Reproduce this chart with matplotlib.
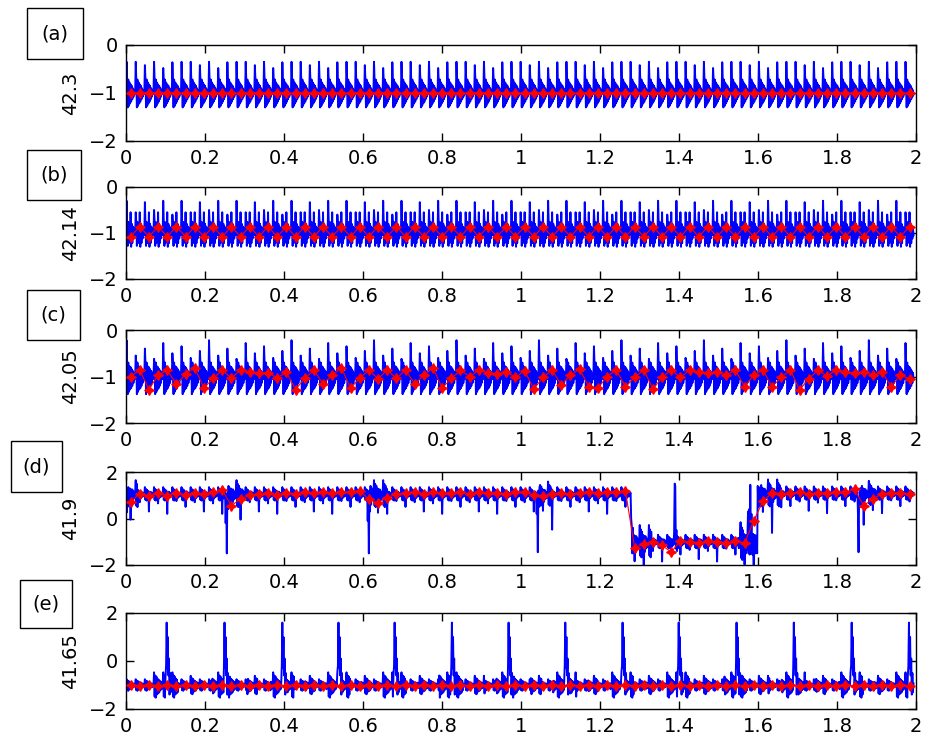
import numpy as np
import matplotlib
matplotlib.use("Agg")
from matplotlib import pyplot as plt
from matplotlib.patches import Rectangle

# ---------------- values ----------------
panel_tags = ['(a)', '(b)', '(c)', '(d)', '(e)']
panel_ylabels = ['42.3', '42.14', '42.05', '41.9', '41.65']
x_ticks = [0, 0.2, 0.4, 0.6, 0.8, 1.0, 1.2, 1.4, 1.6, 1.8, 2.0]
x_ticklabels = ['0', '0.2', '0.4', '0.6', '0.8', '1', '1.2', '1.4', '1.6', '1.8', '2']
y_ticks_abc = [-2, -1, 0]
y_ticks_de = [-2, 0, 2]

period = 0.0232          # spacing of the spikes / red markers (s)
n_cycles = 86
n_sub = 16               # samples of the blue trace per cycle

# one cycle of the blue trace (absolute values), panels a-c
cycle_a = [-1.0, -0.35, -0.74, -1.30, -0.72, -1.27, -0.78, -1.22,
           -0.82, -1.18, -0.85, -1.13, -0.90, -1.08, -0.94, -1.03]
cycle_b = [-1.0, -0.30, -0.78, -1.28, -0.76, -1.22, -0.84, -1.16,
           -0.55, -1.30, -0.80, -1.22, -0.86, -1.12, -0.90, -1.05]
cycle_c = [-1.0, -0.25, -0.72, -1.38, -0.70, -1.33, -0.78, -1.28,
           -0.80, -1.25, -0.84, -1.20, -0.88, -1.14, -0.92, -1.06]
spike_a = [-0.35, -0.35, -0.42, -0.35, -0.48, -0.36]
spike_b = [-0.30, -0.55, -0.33, -0.50, -0.30, -0.60]
spike_c = [-0.22, -0.55, -0.40, -0.62, -0.28, -0.50, -0.35, -0.60, -0.45]

# panels d, e: deviation around the running level
cycle_d = [0.0, 0.30, -0.25, 0.22, -0.28, 0.18, -0.20, 0.12,
           -0.55, 0.10, -0.18, 0.10, -0.12, 0.06, -0.10, 0.02]
dip_d = [-0.55, -0.35, -0.75, -0.40, -0.85, -0.30]
cycle_e = [0.0, 0.24, -0.22, 0.18, -0.24, 0.16, -0.18, 0.12,
           -0.16, 0.10, -0.14, 0.08, -0.10, 0.06, -0.08, 0.03]

# panel d: level segments (start, end, level)
d_segments = [(0.0, 1.277, 1.05), (1.277, 1.600, -1.0), (1.600, 2.02, 1.08)]
# panel d: single events (time, shape of trace from that time on)
d_events = [
    (0.000, [0.9, 0.25, 1.3, 0.5, 1.35, 0.7]),
    (0.253, [-0.2, 0.9, -1.5, 1.1, 0.4, 1.4, 0.6, 1.3]),
    (0.612, [-0.1, 0.8, -1.5, 1.2, 0.3, 1.4, 0.6, 1.3]),
    (1.040, [0.2, 0.9, -1.45, 1.2, 0.5, 1.35]),
    (1.277, [1.1, 0.0, -0.3, -1.5, -0.4, -1.4]),
    (1.387, [-0.6, 1.5, 1.4, -1.3, -0.5, -1.4]),
    (1.574, [0.3, -1.5, 0.4, -1.55, 1.45, -1.4, 0.2, -1.5]),
    (1.598, [-1.5, 1.4, 0.5, 1.35, 0.6, 1.3]),
    (1.853, [0.2, -1.45, 0.9, 0.6, 1.3, 0.5, 1.25]),
]
# panel d: windows with larger ringing (start, end, gain)
d_bursts = [(0.0, 0.03, 2.0), (0.255, 0.30, 2.0), (0.614, 0.66, 2.0),
            (1.042, 1.08, 1.8), (1.28, 1.33, 2.4), (1.55, 1.60, 2.8),
            (1.60, 1.66, 2.0), (1.855, 1.90, 1.8)]

# panel e: large spikes
e_spike_times = [0.101, 0.248, 0.395, 0.537, 0.679, 0.823, 0.967,
                 1.111, 1.256, 1.398, 1.544, 1.689, 1.835, 1.980]
e_spike_shape = [-0.2, 1.6, -0.3, 1.0, -0.6, 0.1, -1.4, -0.5, -1.3]
e_burst_gain = 2.2
e_mid_gain = 1.6

# red markers, one per cycle
red_a = [-1.0] * n_cycles
red_b = [-1.08, -0.86] * (n_cycles // 2)
red_c = [-1.00, -0.86, -1.28, -0.97, -0.87, -1.16, -0.95, -0.81, -1.25, -1.04,
         -0.87, -1.03, -0.86, -0.90, -0.93, -0.92, -1.03, -0.91, -1.28, -1.04,
         -0.86, -1.16, -0.97, -0.81, -1.25, -1.04, -0.86, -1.05, -0.86, -1.04,
         -0.86, -1.16, -0.97, -0.81, -1.25, -1.04, -0.87, -1.00, -0.86, -0.92,
         -0.95, -0.90, -1.02, -0.88, -1.27, -1.02, -0.86, -1.18, -0.97, -0.84,
         -1.22, -1.25, -1.00, -0.86, -1.22, -1.02, -0.86, -1.27, -1.02, -0.86,
         -1.02, -0.86, -0.91, -0.93, -0.90, -0.97, -0.86, -1.22, -0.97, -0.86,
         -1.22, -1.02, -0.86, -1.29, -1.05, -0.86, -0.99, -0.86, -0.90, -0.93,
         -0.90, -0.97, -0.90, -1.22, -0.97, -1.05]
red_d = [0.72, 1.07, 0.95, 1.10, 0.98, 1.10, 1.02, 1.08, 1.05, 1.12,
         1.22, 0.55, 0.85, 1.00, 1.05, 1.10, 1.02, 1.10, 1.05, 1.15,
         1.08, 1.15, 1.10, 1.12, 1.15, 1.20, 0.82, 0.68, 0.90, 1.05,
         1.08, 1.12, 1.05, 1.15, 1.08, 1.10, 1.15, 1.05, 1.12, 1.08,
         1.10, 1.05, 1.12, 1.15, 1.00, 0.95, 1.05, 1.10, 1.05, 1.10,
         1.15, 1.08, 1.15, 1.12, 1.18, -1.25, -1.10, -1.00, -1.15, -1.45,
         -0.95, -1.00, -1.05, -0.98, -1.02, -1.05, -0.98, -1.05, -0.10, 0.75,
         1.10, 1.05, 1.08, 1.12, 1.05, 1.10, 1.08, 1.12, 1.15, 1.25,
         0.55, 0.85, 1.05, 1.10, 1.08, 1.05]
red_e = [-0.98, -1.04] * (n_cycles // 2)

# label boxes in pixels (x0, y0, x1, y1), from the top-left corner
tag_boxes = [(27, 8, 83, 59), (27, 150, 81, 200), (27, 290, 80, 340),
             (11, 441, 62, 492), (20, 580, 72, 628)]
# axes extents in pixels (top, bottom)
axes_rows = [(45, 141), (187, 279), (330, 423), (472, 565), (613, 709)]

W, H = 925, 744


def periodic_trace(cycle, spikes):
    y = np.tile(np.asarray(cycle, float), n_cycles)
    y[1::n_sub] = np.resize(spikes, n_cycles)
    return y


def level_trace(t, cycle, dips, segments, bursts, events):
    dev = np.tile(np.asarray(cycle, float), n_cycles)
    dev[8::n_sub] = np.resize(dips, n_cycles)
    level = np.zeros_like(t)
    for t0, t1, lv in segments:
        level[(t >= t0) & (t < t1)] = lv
    gain = np.ones_like(t)
    for t0, t1, g in bursts:
        gain[(t >= t0) & (t < t1)] = g
    y = level + dev * gain
    dt = period / n_sub
    for te, shape in events:
        i = int(round(te / dt))
        y[i:i + len(shape)] = shape
    return y


def spike_trace(t, cycle, spike_times, shape):
    dev = np.tile(np.asarray(cycle, float), n_cycles)
    gain = np.ones_like(t)
    for ts in spike_times:
        gain[(t >= ts - 0.03) & (t < ts + 0.03)] = e_burst_gain
        gain[(t >= ts + 0.058) & (t < ts + 0.085)] = e_mid_gain
    y = -1.0 + dev * gain
    dt = period / n_sub
    for ts in spike_times:
        i = int(round(ts / dt))
        y[i:i + len(shape)] = shape
    return y


t_blue = np.arange(n_cycles * n_sub) * period / n_sub
t_red = np.arange(n_cycles) * period + 0.5 * period

blue = [
    periodic_trace(cycle_a, spike_a),
    periodic_trace(cycle_b, spike_b),
    periodic_trace(cycle_c, spike_c),
    level_trace(t_blue, cycle_d, dip_d, d_segments, d_bursts, d_events),
    spike_trace(t_blue, cycle_e, e_spike_times, e_spike_shape),
]
red = [red_a, red_b, red_c, red_d, red_e]

plt.rcParams.update({'font.family': 'DejaVu Sans', 'font.size': 14})
fig = plt.figure(figsize=(W / 100, H / 100), dpi=100)

for i, (top, bot) in enumerate(axes_rows):
    ax = fig.add_axes([126 / W, 1 - bot / H, (916 - 126) / W, (bot - top) / H])
    ax.plot(t_blue, blue[i], color='#0000ff', lw=1.4, zorder=2)
    ax.plot(t_red, red[i], color='#ff0000', lw=0.8, marker=(4, 1, 0),
            ms=7, mec='#ff0000', mfc='#ff0000', zorder=3)
    ax.set_xlim(0, 2)
    if i < 3:
        ax.set_ylim(-2, 0)
        ax.set_yticks(y_ticks_abc)
    else:
        ax.set_ylim(-2, 2)
        ax.set_yticks(y_ticks_de)
    ax.set_xticks(x_ticks)
    ax.set_xticklabels(x_ticklabels)
    ax.tick_params(direction='in', length=6, width=1, top=True, right=True, pad=6,
                   labelsize=14)
    for s in ax.spines.values():
        s.set_linewidth(1.0)
    ax.set_ylabel(panel_ylabels[i], fontsize=14)
    ax.yaxis.set_label_coords(-0.058, 0.5)

    x0, y0, x1, y1 = tag_boxes[i]
    fig.add_artist(Rectangle((x0 / W, 1 - y1 / H), (x1 - x0) / W, (y1 - y0) / H,
                             transform=fig.transFigure, fill=False,
                             edgecolor='black', lw=1.0))
    fig.text((x0 + x1) / 2 / W, 1 - (y0 + y1) / 2 / H, panel_tags[i],
             ha='center', va='center', fontsize=14)

fig.savefig('out.png', dpi=100)
